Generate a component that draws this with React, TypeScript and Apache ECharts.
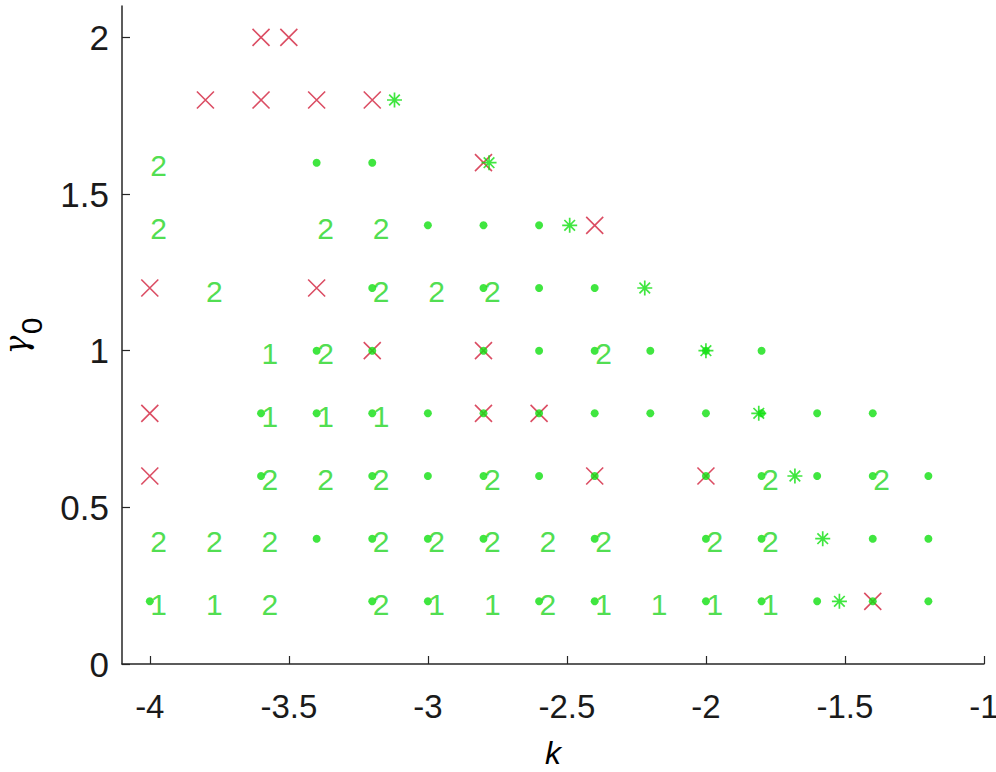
import React, { useEffect, useRef } from 'react';
import * as echarts from 'echarts';

const xTicks = [-4, -3.5, -3, -2.5, -2, -1.5, -1];
const yTicks = [0, 0.5, 1, 1.5, 2];

// green dots (k, gamma0)
const dots: [number, number][] = [
  [-3.4, 1.6], [-3.2, 1.6],
  [-3.0, 1.4], [-2.8, 1.4], [-2.6, 1.4],
  [-3.2, 1.2], [-2.8, 1.2], [-2.6, 1.2], [-2.4, 1.2],
  [-3.4, 1.0], [-3.2, 1.0], [-2.8, 1.0], [-2.6, 1.0], [-2.4, 1.0], [-2.2, 1.0], [-2.0, 1.0], [-1.8, 1.0],
  [-3.6, 0.8], [-3.4, 0.8], [-3.2, 0.8], [-3.0, 0.8], [-2.8, 0.8], [-2.6, 0.8], [-2.4, 0.8], [-2.2, 0.8], [-2.0, 0.8], [-1.8, 0.8], [-1.6, 0.8], [-1.4, 0.8],
  [-3.6, 0.6], [-3.2, 0.6], [-3.0, 0.6], [-2.8, 0.6], [-2.6, 0.6], [-2.4, 0.6], [-2.0, 0.6], [-1.8, 0.6], [-1.6, 0.6], [-1.4, 0.6], [-1.2, 0.6],
  [-3.4, 0.4], [-3.2, 0.4], [-3.0, 0.4], [-2.8, 0.4], [-2.4, 0.4], [-2.0, 0.4], [-1.8, 0.4], [-1.4, 0.4], [-1.2, 0.4],
  [-4.0, 0.2], [-3.2, 0.2], [-3.0, 0.2], [-2.6, 0.2], [-2.4, 0.2], [-2.0, 0.2], [-1.8, 0.2], [-1.6, 0.2], [-1.4, 0.2], [-1.2, 0.2],
];

// numeric labels "1" / "2" (k, gamma0, label)
const labels: [number, number, number][] = [
  [-4.0, 1.6, 2],
  [-4.0, 1.4, 2], [-3.4, 1.4, 2], [-3.2, 1.4, 2],
  [-3.8, 1.2, 2], [-3.2, 1.2, 2], [-3.0, 1.2, 2], [-2.8, 1.2, 2],
  [-3.6, 1.0, 1], [-3.4, 1.0, 2], [-2.4, 1.0, 2],
  [-3.6, 0.8, 1], [-3.4, 0.8, 1], [-3.2, 0.8, 1],
  [-3.6, 0.6, 2], [-3.4, 0.6, 2], [-3.2, 0.6, 2], [-2.8, 0.6, 2], [-1.8, 0.6, 2], [-1.4, 0.6, 2],
  [-4.0, 0.4, 2], [-3.8, 0.4, 2], [-3.6, 0.4, 2], [-3.2, 0.4, 2], [-3.0, 0.4, 2], [-2.8, 0.4, 2], [-2.6, 0.4, 2], [-2.4, 0.4, 2], [-2.0, 0.4, 2], [-1.8, 0.4, 2],
  [-4.0, 0.2, 1], [-3.8, 0.2, 1], [-3.6, 0.2, 2], [-3.2, 0.2, 2], [-3.0, 0.2, 1], [-2.8, 0.2, 1], [-2.6, 0.2, 2], [-2.4, 0.2, 1], [-2.2, 0.2, 1], [-2.0, 0.2, 1], [-1.8, 0.2, 1],
];

// green asterisks
const stars: [number, number][] = [
  [-3.12, 1.8], [-2.78, 1.6], [-2.49, 1.4], [-2.22, 1.2], [-2.0, 1.0],
  [-1.81, 0.8], [-1.68, 0.6], [-1.58, 0.4], [-1.52, 0.2],
];

// red crosses
const crosses: [number, number][] = [
  [-3.6, 2.0], [-3.5, 2.0],
  [-3.8, 1.8], [-3.6, 1.8], [-3.4, 1.8], [-3.2, 1.8],
  [-2.8, 1.6], [-2.4, 1.4],
  [-4.0, 1.2], [-3.4, 1.2],
  [-3.2, 1.0], [-2.8, 1.0],
  [-4.0, 0.8], [-2.8, 0.8], [-2.6, 0.8],
  [-4.0, 0.6], [-2.4, 0.6], [-2.0, 0.6],
  [-1.4, 0.2],
];

const GREEN = '#10e010';
const TEXT_GREEN = '#22d622';
const RED = '#d2203c';
const AXIS = '#262626';
const FONT = '"Liberation Sans", Arial, Helvetica, sans-serif';

export default function App() {
  const ref = useRef<HTMLDivElement>(null);
  useEffect(() => {
    if (!ref.current) return;
    const chart = echarts.init(ref.current, undefined, { renderer: 'svg' });
    chart.setOption({
      animation: false,
      backgroundColor: '#ffffff',
      grid: { left: 122, right: 12, top: 6, bottom: 108, containLabel: false, outerBoundsMode: 'none' },
      graphic: [
        {
          type: 'text',
          x: 16,
          y: 345,
          rotation: Math.PI / 2,
          style: { text: 'γ', fontSize: 31, fontFamily: '"DejaVu Serif", serif', fontStyle: 'italic', fill: '#000', align: 'center', verticalAlign: 'middle' },
        },
        {
          type: 'text',
          x: 31,
          y: 326,
          rotation: Math.PI / 2,
          style: { text: '0', fontSize: 30, fontFamily: FONT, fill: '#000', align: 'center', verticalAlign: 'middle' },
        },
      ],
      xAxis: {
        type: 'value',
        min: -4.1,
        max: -1,
        name: 'k',
        nameLocation: 'middle',
        nameGap: 73,
        nameTextStyle: { fontSize: 32, fontStyle: 'italic', fontFamily: FONT, color: '#000' },
        axisLine: { show: true, onZero: false, lineStyle: { color: AXIS, width: 1.5 } },
        axisTick: { show: true, inside: true, length: 8, customValues: xTicks, lineStyle: { color: AXIS, width: 1.2 } },
        axisLabel: { show: true, customValues: xTicks, margin: 26, fontSize: 33, fontFamily: FONT, color: '#1a1a1a' },
        splitLine: { show: false },
      },
      yAxis: {
        type: 'value',
        min: 0,
        max: 2.1,
        axisLine: { show: true, onZero: false, lineStyle: { color: AXIS, width: 1.5 } },
        axisTick: { show: true, inside: true, length: 8, customValues: yTicks, lineStyle: { color: AXIS, width: 1.2 } },
        axisLabel: { show: true, customValues: yTicks, margin: 13, fontSize: 35, fontFamily: FONT, color: '#1a1a1a' },
        splitLine: { show: false },
      },
      series: [
        {
          type: 'scatter',
          name: 'cross',
          data: crosses,
          symbol: 'path://M0 0L10 10M0 10L10 0',
          symbolSize: 17,
          itemStyle: { color: RED, borderColor: RED, borderWidth: 1.6 },
          z: 2,
        },
        {
          type: 'scatter',
          name: 'star',
          data: stars,
          symbol: 'path://M5 0L5 10M0 5L10 5M1.46 1.46L8.54 8.54M1.46 8.54L8.54 1.46',
          symbolSize: 15,
          itemStyle: { color: GREEN, borderColor: GREEN, borderWidth: 1.7 },
          z: 3,
        },
        {
          type: 'scatter',
          name: 'dot',
          data: dots,
          symbol: 'circle',
          symbolSize: 8,
          itemStyle: { color: GREEN },
          z: 4,
        },
        {
          type: 'scatter',
          name: 'label',
          data: labels,
          symbol: 'circle',
          symbolSize: 1,
          itemStyle: { color: 'rgba(0,0,0,0)' },
          label: {
            show: true,
            position: 'right',
            distance: 0,
            offset: [0, 3],
            formatter: (p: any) => String(p.value[2]),
            fontSize: 30,
            fontFamily: FONT,
            color: TEXT_GREEN,
          },
          z: 5,
        },
      ],
    });
    return () => chart.dispose();
  }, []);
  return <div ref={ref} style={{ position: 'fixed', left: 0, top: 0, width: 996, height: 772, background: '#fff' }} />;
}
